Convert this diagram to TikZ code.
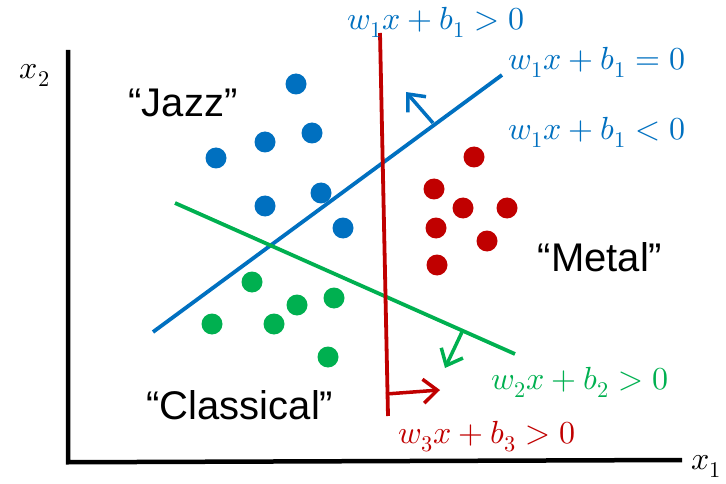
\documentclass[tikz,border=0pt]{standalone}
\usepackage{fontspec}
\usepackage{unicode-math}
\setmainfont{Liberation Sans}
\setmathfont{Latin Modern Math}
\usetikzlibrary{arrows.meta}
\definecolor{cblue}{HTML}{0070C0}
\definecolor{cred}{HTML}{C00000}
\definecolor{cgreen}{HTML}{00B050}
\tikzset{
  ax/.style={line width=4.5pt, black},
  sep/.style={line width=3.8pt},
  nrm/.style={line width=3.5pt, -{Straight Barb[length=14pt,width=24pt,line width=3.5pt]}},
  dot/.style={circle, inner sep=0pt, minimum size=21pt},
  mlab/.style={font=\fontsize{32}{36}\selectfont, inner sep=0pt},
  clab/.style={font=\fontsize{40}{48}\selectfont, inner sep=0pt},
}
\begin{document}
\begin{tikzpicture}[x=1pt,y=-1pt]
\useasboundingbox (0,0) rectangle (726,484);
% axes
\coordinate (o) at (68,460);
\coordinate (ytop) at (68,50);
\coordinate (xend) at (682,460);
\draw[ax] (ytop) -- (68,462.25) -- (xend);
\node[mlab] (x2) at (35,75) {$x_2$};
\node[mlab] (x1) at (706,466) {$x_1$};
% class labels
\node[clab] (jazz) at (183,103) {“Jazz”};
\node[clab] (metal) at (600,257) {“Metal”};
\node[clab] (classical) at (240,405) {“Classical”};
% blue dots
\foreach \p [count=\i] in {(296,84),(265,142),(312,133),(216,158),(265,206),(321,193),(343,228)}
  \node[dot, fill=cblue] (b\i) at \p {};
% red dots
\foreach \p [count=\i] in {(474,157),(434,189),(463,208),(507,208),(436,228),(487,241),(437,265)}
  \node[dot, fill=cred] (r\i) at \p {};
% green dots
\foreach \p [count=\i] in {(252,282),(212,324),(274,324),(297,305),(334,298),(328,357)}
  \node[dot, fill=cgreen] (g\i) at \p {};
% separating lines
\coordinate (bl1) at (153,332);
\coordinate (bl2) at (502,75);
\draw[sep, cblue] (bl1) -- (bl2);
\coordinate (gl1) at (175,203);
\coordinate (gl2) at (515,354);
\draw[sep, cgreen] (gl1) -- (gl2);
\coordinate (rl1) at (380,33);
\coordinate (rl2) at (388,416);
\draw[sep, cred] (rl1) -- (rl2);
% normals
\coordinate (ba) at (433,123);
\coordinate (bt) at (406,92);
\draw[nrm, cblue] (ba) -- (bt);
\coordinate (ga) at (462,332);
\coordinate (gt) at (445,368);
\draw[nrm, cgreen] (ga) -- (gt);
\coordinate (ra) at (386,394);
\coordinate (rt) at (440,390);
\draw[nrm, cred] (ra) -- (rt);
% equations
\node[mlab, text=cblue] (e1) at (436,22) {$w_1x+b_1>0$};
\node[mlab, text=cblue] (e2) at (597,62) {$w_1x+b_1=0$};
\node[mlab, text=cblue] (e3) at (597,132) {$w_1x+b_1<0$};
\node[mlab, text=cgreen] (e4) at (580,382) {$w_2x+b_2>0$};
\node[mlab, text=cred] (e5) at (487,437) {$w_3x+b_3>0$};
\end{tikzpicture}
\end{document}
